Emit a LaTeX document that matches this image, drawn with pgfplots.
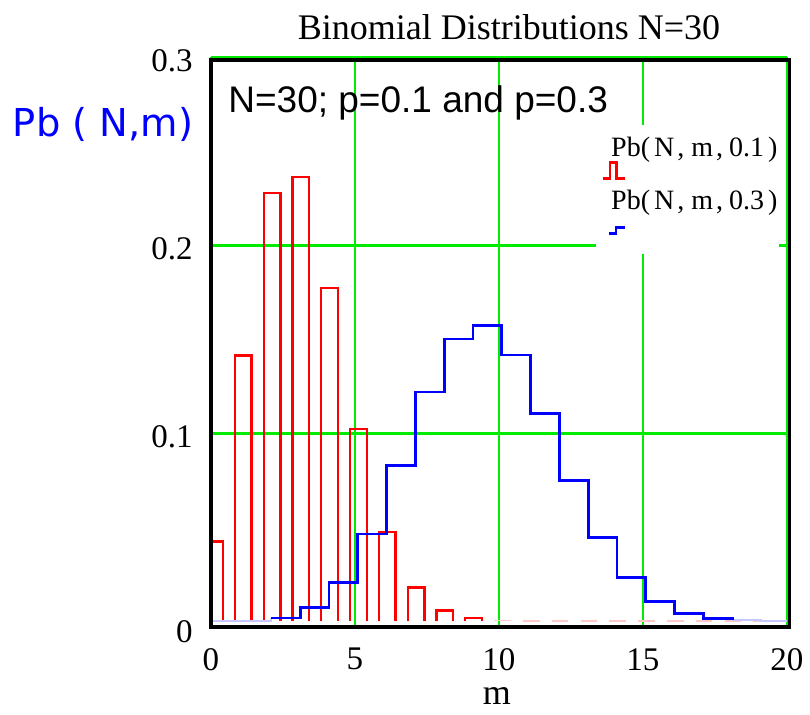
\documentclass[border=0pt]{standalone}
\usepackage{fontspec}
\setmainfont{Liberation Serif}
\newfontfamily\lsans{Liberation Sans}
\newfontfamily\dvsans{DejaVu Sans}
\usepackage{pgfplots}
\pgfplotsset{compat=1.18}
\definecolor{gridgreen}{RGB}{0,235,0}
\definecolor{pbblue}{RGB}{0,0,255}
\definecolor{pbred}{RGB}{255,0,0}
\begin{document}
\begin{tikzpicture}
\begin{axis}[
  name=ax, at={(0pt,0pt)}, anchor=south west,
  scale only axis, width=288pt, height=285pt,
  xmin=0, xmax=20, ymin=-0.003, ymax=0.3,
  xtick={0,5,10,15,20},
  ytick={0.1,0.2,0.3}, yticklabels={0.1,0.2,0.3},
  extra y ticks={0}, extra y tick labels={0},
  extra y tick style={grid=none, yticklabel style={yshift=-3pt}},
  grid=major, major grid style={gridgreen, line width=1.4pt},
  axis line style={draw=none}, major tick length=0pt, tick style={draw=none},
  ticklabel style={font=\fontsize{16.5}{19}\selectfont},
  /pgf/number format/assume math mode=true,
  xticklabel style={anchor=north, inner sep=0pt, yshift=-10.5pt},
  yticklabel style={anchor=east, inner sep=0pt, xshift=-9pt, yshift=-2pt},
  clip mode=individual,
  unbounded coords=jump,
  legend style={at={(0.667,0.881)}, anchor=north west, draw=none, fill=white,
    inner xsep=0pt, inner ysep=6pt, row sep=5pt, legend cell align=left,
    nodes={inner sep=0pt}},
]
% red bars p=0.1 (open rectangles without bottom edge)
\addplot[pbred, line width=1.15pt, forget plot] coordinates {
(-0.17,0)(-0.17,0.0424)(0.41,0.0424)(0.41,0)(0.41,nan)
(0.83,0)(0.83,0.1413)(1.41,0.1413)(1.41,0)(1.41,nan)
(1.83,0)(1.83,0.2277)(2.41,0.2277)(2.41,0)(2.41,nan)
(2.83,0)(2.83,0.2361)(3.41,0.2361)(3.41,0)(3.41,nan)
(3.83,0)(3.83,0.1771)(4.41,0.1771)(4.41,0)(4.41,nan)
(4.83,0)(4.83,0.1023)(5.41,0.1023)(5.41,0)(5.41,nan)
(5.83,0)(5.83,0.0474)(6.41,0.0474)(6.41,0)(6.41,nan)
(6.83,0)(6.83,0.0180)(7.41,0.0180)(7.41,0)(7.41,nan)
(7.83,0)(7.83,0.0058)(8.41,0.0058)(8.41,0)(8.41,nan)
(8.83,0)(8.83,0.0016)(9.41,0.0016)(9.41,0)
};
% very small red bars, m >= 10
\addplot[pbred!22, line width=0.9pt, forget plot] coordinates {
(9.83,0.0004)(10.41,0.0004)(10.41,nan)
(10.83,0.0001)(11.41,0.0001)(11.41,nan)
(11.83,0)(12.41,0)(12.41,nan)
(12.83,0)(13.41,0)(13.41,nan)
(13.83,0)(14.41,0)(14.41,nan)
(14.83,0)(15.41,0)(15.41,nan)
(15.83,0)(16.41,0)(16.41,nan)
(16.83,0)(17.41,0)(17.41,nan)
(17.83,0)(18.41,0)(18.41,nan)
(18.83,0)(19.41,0)
};
% faint blue ends p=0.3
\addplot[pbblue!22, line width=1pt, const plot, forget plot] coordinates {
(0,0.00002)(1.1,0.0003)(2.1,0.0018)
};
\addplot[pbblue!22, line width=1pt, const plot, forget plot] coordinates {
(18.1,0.0005)(19.1,0.0001)(20,0.00003)
};
% legend entries
\addlegendimage{legend image code/.code={
  \path (-3.3pt,0pt);
  \draw[pbred, line width=1.15pt] (0pt,0pt) -- (3.7pt,0pt) -- (3.7pt,8pt) -- (7pt,8pt) -- (7pt,0pt) -- (11pt,0pt);
  \node[anchor=base west, inner sep=0pt, text=black, font=\fontsize{14}{16}\selectfont] at (4.1pt,11pt)
    {Pb(\hspace{2pt}N\hspace{1.5pt},\hspace{3.5pt}m\hspace{1.5pt},\hspace{3pt}0.1\hspace{2pt})};
}}
\addlegendentry{}
\addlegendimage{legend image code/.code={
  \path (-3.3pt,-4pt);
  \draw[pbblue, line width=1.4pt] (3pt,0pt) -- (6.7pt,0pt) -- (6.7pt,3pt) -- (11.2pt,3pt);
  \node[anchor=base west, inner sep=0pt, text=black, font=\fontsize{14}{16}\selectfont] at (4.1pt,12pt)
    {Pb(\hspace{2pt}N\hspace{1.5pt},\hspace{3.5pt}m\hspace{1.5pt},\hspace{3pt}0.3\hspace{2pt})};
}}
\addlegendentry{}
% blue step p=0.3
\addplot[pbblue, line width=1.4pt, const plot, forget plot] coordinates {
(2.1,0.0018)(3.1,0.0072)(4.1,0.0208)(5.1,0.0464)(6.1,0.0829)(7.1,0.1219)
(8.1,0.1501)(9.1,0.1573)(10.1,0.1416)(11.1,0.1103)(12.1,0.0749)(13.1,0.0444)
(14.1,0.0231)(15.1,0.0106)(16.1,0.0043)(17.1,0.0015)(18.1,0.0005)
};
\end{axis}
% frame
\draw[black, line width=1.7pt] (0pt,0pt) rectangle (289.2pt,283.5pt);
% texts
\node[anchor=base, inner sep=0pt, font=\fontsize{18}{21}\selectfont] at (149pt,293.5pt) {Binomial Distributions N=30};
\node[anchor=base west, inner sep=0pt, text=pbblue, font=\dvsans\fontsize{19.2}{22}\selectfont] at (-99.2pt,245pt) {Pb ( N,m)};
\node[anchor=base west, inner sep=0pt, font=\lsans\fontsize{18.5}{22}\selectfont] at (8.5pt,257pt) {N=30; p=0.1 and p=0.3};
\node[anchor=base, inner sep=0pt, font=\fontsize{18}{21}\selectfont] at (143pt,-39pt) {m};
\pgfresetboundingbox
\useasboundingbox (-105.5pt,-44pt) rectangle (299.5pt,313.5pt);
\end{tikzpicture}
\end{document}
